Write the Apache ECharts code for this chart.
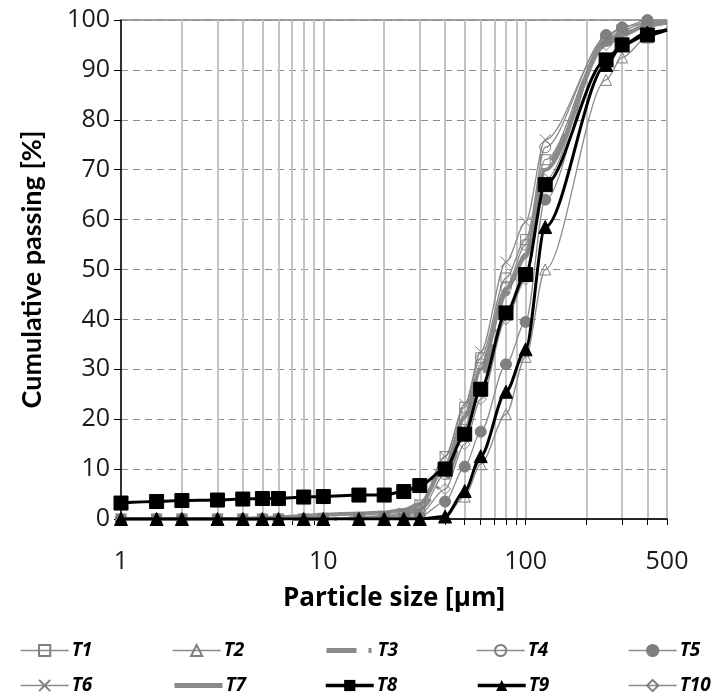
<!DOCTYPE html>
<html>
<head>
<meta charset="utf-8">
<script src="https://cdn.jsdelivr.net/npm/echarts@6/dist/echarts.min.js"></script>
<style>
  html, body { margin: 0; padding: 0; background: #fff; }
  #chart { width: 723px; height: 696px; }
</style>
</head>
<body>
<div id="chart"></div>
<script>
// Particle sizes (µm) at which cumulative passing was measured
const sizes = [1, 1.5, 2, 3, 4, 5, 6, 8, 10, 15, 20, 25, 30, 40, 50, 60, 80, 100, 125, 250, 300, 400, 500];

// Cumulative passing (%) per sample
const t1  = [0, 0, 0, 0, 0, 0, 0, 0, 0, 0.3, 0.5, 1.0, 2.8, 12.5, 22.4, 32.3, 48.3, 56.0, 72.0, 96.0, 97.5, 99.0, 99.5];
const t2  = [0, 0, 0, 0, 0, 0, 0, 0, 0, 0, 0, 0, 0, 0.5, 4.5, 11.0, 21.0, 32.5, 50.0, 88.0, 92.5, 96.5, 98.5];
const t3  = [0, 0, 0, 0, 0, 0, 0, 0, 0, 0.2, 0.4, 0.8, 2.0, 7.5, 17.5, 28.0, 45.0, 53.0, 71.0, 95.5, 97.5, 99.0, 99.5];
const t4  = [0, 0, 0, 0, 0, 0, 0, 0, 0, 0.2, 0.3, 0.6, 1.5, 9.0, 20.0, 31.0, 46.5, 55.0, 74.5, 96.5, 98.5, 99.5, 100];
const t5  = [0, 0, 0, 0, 0, 0, 0, 0, 0, 0, 0, 0.2, 0.5, 3.5, 10.5, 17.5, 31.0, 39.5, 64.0, 97.0, 98.5, 100, 100];
const t6  = [0, 0, 0, 0, 0, 0, 0, 0, 0, 0.3, 0.6, 1.2, 3.0, 12.5, 23.0, 33.5, 51.5, 59.5, 76.0, 96.0, 98.0, 99.5, 100];
const t7  = [0, 0, 0, 0, 0, 0.2, 0.3, 0.6, 0.9, 1.1, 1.3, 1.8, 3.0, 10.5, 20.5, 30.0, 46.0, 52.5, 70.0, 95.0, 97.0, 99.0, 99.5];
const t8  = [3.2, 3.5, 3.7, 3.8, 4.0, 4.1, 4.1, 4.4, 4.5, 4.8, 4.8, 5.5, 6.7, 10.0, 17.0, 26.0, 41.3, 49.0, 67.0, 92.0, 95.0, 97.0, 98.0];
const t9  = [0, 0, 0, 0, 0, 0, 0, 0, 0, 0, 0, 0, 0, 0.5, 5.6, 12.6, 25.5, 34.0, 58.5, 91.0, 95.0, 97.5, 98.0];
const t10 = [0, 0, 0, 0, 0, 0, 0, 0, 0, 0.1, 0.2, 0.4, 1.0, 6.0, 15.0, 24.0, 40.0, 48.0, 68.0, 95.0, 97.5, 99.0, 99.5];

// Axis ticks and labels
const xTickValues = [1, 2, 3, 4, 5, 6, 7, 8, 9, 10, 20, 30, 40, 50, 60, 70, 80, 90, 100, 200, 300, 400, 500];
const xLabelValues = [1, 10, 100, 500];

const FONT = '"Open Sans", Lato, sans-serif';
const NAMEFONT = 'Lato, "Open Sans", sans-serif';
const GRAY = '#8c8c8c';
const THICK = '#8a8a8a';
const MARK = '#7f7f7f';
const CROSS = 'path://M0,0L10,10M10,0L0,10';
const T3DASH = [30, 12, 3, 12];

// pair sizes with values; the last point (500 µm) carries no marker
function pts(vals) {
  return sizes.map((x, i) => i === sizes.length - 1
    ? { value: [x, vals[i]], symbol: 'none' }
    : [x, vals[i]]);
}

function graySeries(name, vals, symbol, opts) {
  opts = opts || {};
  return {
    name: name,
    type: 'line',
    data: pts(vals),
    smooth: 0.3,
    smoothMonotone: 'x',
    symbol: symbol,
    symbolSize: opts.size || 10,
    showSymbol: symbol !== 'none',
    lineStyle: { color: opts.lineColor || GRAY, width: opts.width || 1.3, type: opts.type || 'solid' },
    itemStyle: opts.filled
      ? { color: MARK, borderColor: MARK, borderWidth: 1 }
      : { color: 'rgba(255,255,255,0)', borderColor: MARK, borderWidth: 1 },
    emphasis: { disabled: true },
    z: 2
  };
}

const series = [
  graySeries('T1', t1, 'rect'),
  graySeries('T2', t2, 'triangle', { size: 11 }),
  graySeries('T3', t3, 'none', { width: 4, type: T3DASH, lineColor: THICK }),
  graySeries('T4', t4, 'circle', { size: 11 }),
  graySeries('T5', t5, 'circle', { size: 11, filled: true }),
  graySeries('T6', t6, CROSS, { size: 11 }),
  graySeries('T7', t7, 'none', { width: 4, lineColor: THICK }),
  {
    name: 'T8', type: 'line', data: pts(t8), smooth: 0.3, smoothMonotone: 'x',
    symbol: 'rect', symbolSize: 14,
    lineStyle: { color: '#000', width: 3 },
    itemStyle: { color: '#000', borderColor: '#000' },
    emphasis: { disabled: true }, z: 4
  },
  {
    name: 'T9', type: 'line', data: pts(t9), smooth: 0.3, smoothMonotone: 'x',
    symbol: 'triangle', symbolSize: 13,
    lineStyle: { color: '#000', width: 3 },
    itemStyle: { color: '#000', borderColor: '#000' },
    emphasis: { disabled: true }, z: 4
  },
  graySeries('T10', t10, 'diamond', { size: 11 })
];

// two rows of five legend entries under the chart
const names = ['T1', 'T2', 'T3', 'T4', 'T5', 'T6', 'T7', 'T8', 'T9', 'T10'];
const legendLine = {
  T3: { width: 5, color: THICK, type: T3DASH },
  T7: { width: 5, color: THICK },
  T8: { width: 3.5, color: '#000' },
  T9: { width: 3.5, color: '#000' }
};
const legends = names.map((n, i) => {
  const lg = {
    data: [n],
    left: 20 + 152 * (i % 5),
    top: i < 5 ? 641 : 676,
    padding: 0,
    itemWidth: 48,
    itemHeight: 14,
    itemGap: 0,
    selectedMode: false,
    lineStyle: legendLine[n] || { width: 1.3, color: GRAY },
    textStyle: { fontFamily: FONT, fontSize: 19, fontWeight: 'bold', fontStyle: 'italic', color: '#000', padding: [0, 0, 0, -2] }
  };
  if (n === 'T3' || n === 'T7') lg.itemStyle = { opacity: 0 };
  return lg;
});

const chart = echarts.init(document.getElementById('chart'), null, { renderer: 'canvas' });
chart.setOption({
  animation: false,
  backgroundColor: '#fff',
  textStyle: { fontFamily: FONT },
  grid: { left: 121, right: 56, top: 20, bottom: 177, show: true, borderColor: '#404040', borderWidth: 1, backgroundColor: 'transparent' },
  legend: legends,
  xAxis: {
    type: 'log',
    logBase: 10,
    min: 1,
    max: 500,
    name: 'Particle size [µm]',
    nameLocation: 'middle',
    nameGap: 67,
    nameTextStyle: { fontFamily: FONT, fontSize: 26, fontWeight: 'bold', color: '#000' },
    axisLine: { show: true, onZero: false, lineStyle: { color: '#000', width: 1.5 } },
    axisTick: { show: true, inside: false, length: 6, customValues: xTickValues, lineStyle: { color: '#000', width: 1 } },
    axisLabel: { customValues: xLabelValues, fontSize: 25, color: '#1a1a1a', margin: 30, fontFamily: FONT },
    splitLine: { show: true, lineStyle: { color: '#c4c4c4', width: 2, type: 'solid' } }
  },
  yAxis: {
    type: 'value',
    min: 0,
    max: 100,
    interval: 10,
    name: 'Cumulative passing [%]',
    nameLocation: 'middle',
    nameGap: 75,
    nameTextStyle: { fontFamily: NAMEFONT, fontSize: 27, fontWeight: 'bold', color: '#000' },
    axisLine: { show: true, lineStyle: { color: '#000', width: 1.5 } },
    axisTick: { show: true, inside: false, length: 7, lineStyle: { color: '#000', width: 1 } },
    axisLabel: { fontSize: 25, color: '#1a1a1a', margin: 11, fontFamily: FONT },
    splitLine: { show: true, lineStyle: { color: '#8f8f8f', width: 1.2, type: [7, 5] } }
  },
  series: series
});
</script>
</body>
</html>
